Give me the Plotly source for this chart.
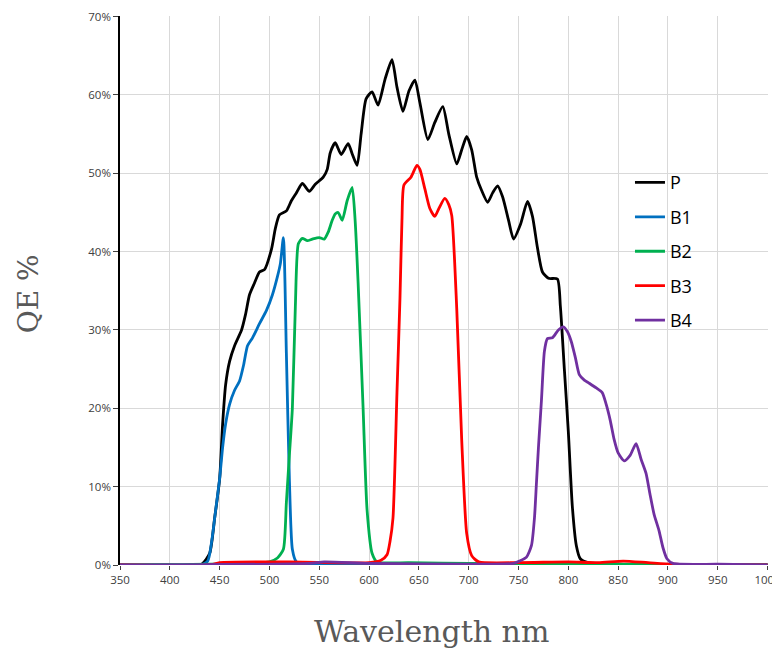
import plotly.graph_objects as go

# P (panchromatic)
p_wl = [350, 400, 432, 440, 445, 450, 453, 456, 460, 465, 472, 476, 480, 485, 490, 495, 502, 506, 510, 517,
        522, 527, 533, 540, 546, 554, 558, 561, 566, 572, 579, 583, 588, 592, 597, 603, 609, 616, 623, 628,
        634, 640, 646, 651, 659, 666, 674, 680, 688, 693, 698, 703, 708, 713, 719, 724, 729, 734, 740, 745,
        752, 759, 764, 769, 774, 780, 789, 792, 796, 800, 804, 808, 812, 820, 850, 1000]
p_qe = [0, 0, 0.1, 1.5, 6, 11, 18, 23, 26, 28, 30, 32, 34.5, 36, 37.4, 37.7, 40.3, 43, 44.7, 45.2,
        46.5, 47.5, 48.7, 47.7, 48.6, 49.5, 50.5, 52.6, 53.9, 52.4, 53.8, 52.5, 51, 55, 59.5, 60.4, 58.7, 62, 64.5, 61,
        57.9, 60.5, 61.9, 59, 54.3, 56.5, 58.5, 55, 51.2, 53, 54.7, 53, 49.5, 47.8, 46.3, 47.5, 48.4, 47, 44, 41.6,
        43.5, 46.4, 44.5, 40.5, 37.4, 36.6, 36.5, 33, 25, 17, 7.5, 2.5, 0.8, 0.3, 0.1, 0]

# B1 (blue)
b1_wl = [350, 430, 438, 442, 446, 450, 453, 456, 460, 465, 470, 474, 478, 483, 490, 497, 503, 508, 511, 514,
         517, 520, 523, 527, 540, 1000]
b1_qe = [0, 0, 0.5, 3, 7, 11, 15, 18, 20.5, 22.3, 23.5, 25.5, 28, 29, 30.8, 32.5, 34.5, 36.8, 38.5, 41.8,
         27, 11, 2, 0.4, 0.1, 0]

# B2 (green)
b2_wl = [350, 480, 500, 508, 514, 517, 520, 523, 526, 529, 533, 538, 543, 550, 555, 559, 563, 566, 569, 573,
         578, 583, 586, 589, 594, 598, 603, 608, 640, 700, 1000]
b2_qe = [0, 0.2, 0.4, 0.9, 2, 8, 14, 20, 33, 41, 41.7, 41.4, 41.6, 41.8, 41.6, 42.5, 44, 44.8, 45, 44,
         46.5, 48.2, 44, 36, 20, 7, 1.5, 0.4, 0.3, 0.2, 0]

# B3 (red)
b3_wl = [350, 440, 450, 520, 600, 612, 618, 621, 624, 628, 631, 633, 635, 642, 648, 651, 656, 661, 666, 670,
         676, 680, 683, 688, 693, 698, 703, 710, 750, 800, 830, 855, 880, 905, 1000]
b3_qe = [0, 0, 0.3, 0.4, 0.3, 0.6, 1.3, 3, 6, 22, 34, 44, 48.5, 49.5, 51, 50.5, 48, 45.5, 44.5, 45.5,
         46.8, 46, 44.6, 32.7, 15.9, 4, 1.2, 0.4, 0.3, 0.4, 0.3, 0.5, 0.3, 0.1, 0]

# B4 (purple)
b4_wl = [350, 540, 555, 600, 700, 745, 751, 758, 763, 766, 768, 770, 773, 776, 779, 784, 790, 795, 799, 803,
         807, 811, 816, 821, 828, 834, 838, 842, 846, 850, 856, 862, 868, 873, 878, 882, 886, 891, 895, 899,
         905, 950, 1000]
b4_qe = [0, 0.2, 0.4, 0.2, 0.1, 0.2, 0.5, 1, 2.5, 6, 10.5, 15, 21, 27.3, 28.9, 29, 30, 30.4, 29.8, 28.5,
         26.5, 24.3, 23.6, 23.2, 22.6, 22, 20.5, 18.5, 16, 14.3, 13.3, 14, 15.5, 13.5, 11.7, 9, 6.5, 4.4, 2.2, 0.8,
         0.2, 0.1, 0]

series = [
    ("P", p_wl, p_qe, "#000000"),
    ("B1", b1_wl, b1_qe, "#0070C0"),
    ("B2", b2_wl, b2_qe, "#00B050"),
    ("B3", b3_wl, b3_qe, "#FF0000"),
    ("B4", b4_wl, b4_qe, "#7030A0"),
]

x_ticks = list(range(350, 1001, 50))
y_ticks = list(range(0, 71, 10))

fig = go.Figure()
for name, wl, qe, color in series:
    fig.add_trace(go.Scatter(
        x=wl, y=qe, name=name, mode="lines", legendgroup=name,
        line=dict(color=color, width=2.8, shape="spline", smoothing=0.6),
    ))

fig.update_layout(
    width=780, height=649,
    margin=dict(l=112, r=20, t=8, b=92, autoexpand=False),
    paper_bgcolor="white", plot_bgcolor="white",
    font=dict(family="Open Sans", color="#404040", size=11),
    legend=dict(
        x=0.787, y=0.73, xanchor="left", yanchor="top",
        bgcolor="rgba(0,0,0,0)", font=dict(family="Open Sans", size=18, color="#000000"),
        tracegroupgap=8, itemwidth=30,
    ),
    showlegend=True,
    annotations=[
        dict(text="Wavelength nm", xref="paper", yref="paper", x=0.481, y=-0.121,
             xanchor="center", yanchor="middle", showarrow=False,
             font=dict(family="DejaVu Serif", size=30, color="#595959")),
        dict(text="QE %", xref="paper", yref="paper", x=-0.142, y=0.495,
             xanchor="center", yanchor="middle", showarrow=False, textangle=-90,
             font=dict(family="DejaVu Serif", size=28, color="#595959")),
    ],
)
fig.update_xaxes(
    range=[350, 1000.4], tickvals=x_ticks, ticktext=[str(v) for v in x_ticks],
    showgrid=True, gridcolor="#D9D9D9", gridwidth=1, automargin=False,
    showline=False, zeroline=False, ticklabeloverflow="allow",
    ticks="outside", ticklen=4, tickcolor="#404040",
    tickfont=dict(size=11.5, color="#404040"),
)
fig.update_yaxes(
    range=[0, 70.08], tickvals=y_ticks, ticktext=[f"{v}%" for v in y_ticks],
    showgrid=True, gridcolor="#D9D9D9", gridwidth=1, automargin=False,
    showline=True, linecolor="#000000", linewidth=1.5, zeroline=False, ticklabeloverflow="allow",
    ticks="outside", ticklen=5, tickcolor="#404040",
    tickfont=dict(size=11.5, color="#404040"),
)

fig.write_html("out.html")
